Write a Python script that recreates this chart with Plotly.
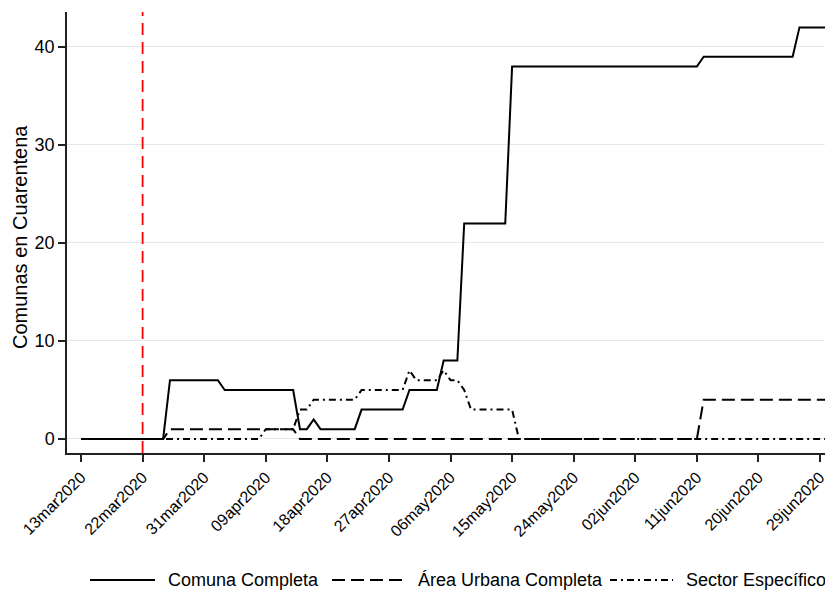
import pandas as pd
import plotly.graph_objects as go

# ---------------- data ----------------
start_date = "2020-03-13"
end_date = "2020-06-30"
dates = pd.date_range(start_date, end_date, freq="D")

comuna_completa = (
    [0] * 13 + [6] * 8 + [5] * 11 + [1, 1, 2] + [1] * 6 + [3] * 7 + [5] * 5
    + [8] * 3 + [22] * 7 + [38] * 28 + [39] * 14 + [42] * 5
)
area_urbana = [0] * 13 + [1] * 19 + [0] * 59 + [4] * 19
sector_especifico = (
    [0] * 27 + [1] * 5 + [3] * 2 + [4] * 7 + [5] * 7 + [7] + [6] * 4 + [7]
    + [6] * 2 + [5] + [3] * 7 + [0] * 46
)

series_names = ["Comuna Completa", "Área Urbana Completa", "Sector Específico"]
tick_dates = ["2020-03-13", "2020-03-22", "2020-03-31", "2020-04-09", "2020-04-18",
              "2020-04-27", "2020-05-06", "2020-05-15", "2020-05-24", "2020-06-02",
              "2020-06-11", "2020-06-20", "2020-06-29"]
tick_labels = ["13mar2020", "22mar2020", "31mar2020", "09apr2020", "18apr2020",
               "27apr2020", "06may2020", "15may2020", "24may2020", "02jun2020",
               "11jun2020", "20jun2020", "29jun2020"]
y_ticks = [0, 10, 20, 30, 40]
event_date = "2020-03-22"
y_title = "Comunas en Cuarentena"

# ---------------- styling ----------------
FONT = "Liberation Sans, Arial, Helvetica, sans-serif"
OFF = 8  # default page body margin
W, H = 833 - OFF, 591 - OFF
L, R, T, B = 67 - OFF, 0, 12 - OFF, 591 - 453
PW, PH = W - L - R, H - T - B
dash_styles = ["solid", "13px,6px", "7px,4px,2px,4px"]
line_w = 2

fig = go.Figure()
for name, vals, dash in zip(series_names,
                            [comuna_completa, area_urbana, sector_especifico],
                            dash_styles):
    fig.add_trace(go.Scatter(x=dates, y=vals, mode="lines", name=name,
                             line=dict(color="black", width=line_w, dash=dash),
                             showlegend=False))

# red vertical dashed line
fig.add_shape(type="line", xref="x", yref="paper", x0=event_date, x1=event_date,
              y0=0, y1=1, line=dict(color="#ff0000", width=1.8, dash="12px,7px"))

def px_x(px):  # page pixel -> paper
    return (px - OFF - L) / PW

def px_y(py):
    return (H - B - (py - OFF)) / PH

# manual legend
leg_y = 580
leg_items = [(90, 155, 166), (332, 403, 416), (610, 673, 684)]
for (x0, x1, xt), name, dash in zip(leg_items, series_names, dash_styles):
    fig.add_shape(type="line", xref="paper", yref="paper",
                  x0=px_x(x0), x1=px_x(x1), y0=px_y(leg_y), y1=px_y(leg_y),
                  line=dict(color="black", width=line_w, dash=dash))
    fig.add_annotation(xref="paper", yref="paper", x=px_x(xt), y=px_y(leg_y),
                       text=name, showarrow=False, xanchor="left", yanchor="middle",
                       font=dict(family=FONT, size=18, color="black"))

fig.add_annotation(xref="paper", yref="paper", x=px_x(20), y=px_y(237), text=y_title,
                   textangle=-90, showarrow=False, xanchor="center", yanchor="middle",
                   font=dict(family=FONT, size=20, color="black"))

fig.update_layout(
    width=W, height=H,
    margin=dict(l=L, r=R, t=T, b=B),
    paper_bgcolor="white", plot_bgcolor="white",
    font=dict(family=FONT, size=17, color="black"),
    showlegend=False,
)
fig.update_xaxes(
    type="date",
    range=["2020-03-10 22:48", "2020-06-30 21:36"],
    tickvals=tick_dates, ticktext=tick_labels, tickangle=-45,
    ticks="outside", ticklen=7, tickwidth=1.5, tickcolor="#222",
    showline=True, linecolor="#222", linewidth=1.5,
    showgrid=False, zeroline=False,
    tickfont=dict(family=FONT, size=16, color="black"),
)
fig.update_yaxes(
    range=[-1.43, 43.57],
    tickvals=y_ticks, ticks="outside", ticklen=7, tickwidth=1.5, tickcolor="#222",
    showline=True, linecolor="#222", linewidth=1.5,
    showgrid=True, gridcolor="#e3eaee", gridwidth=1, zeroline=False,
    tickfont=dict(family=FONT, size=18, color="black"),
)

fig.write_html("out.html")
